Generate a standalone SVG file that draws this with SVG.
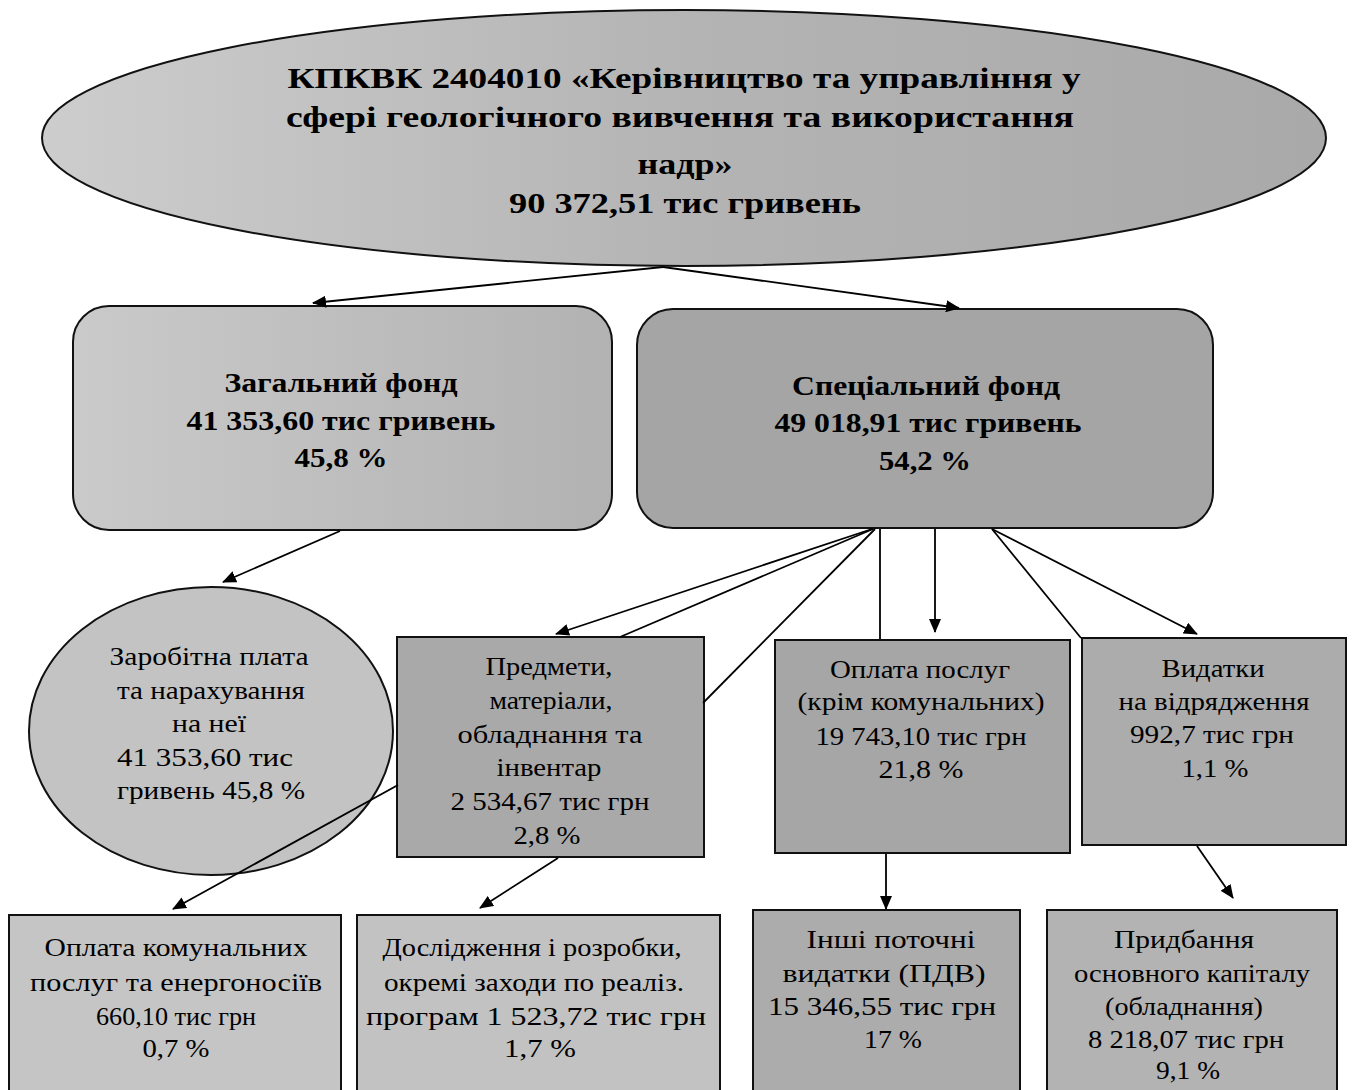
<svg xmlns="http://www.w3.org/2000/svg" width="1354" height="1090" viewBox="0 0 1354 1090">
<defs>
<linearGradient id="gEll" x1="0" y1="0" x2="1" y2="0">
<stop offset="0" stop-color="#cdcdcd"/><stop offset="0.5" stop-color="#b4b4b4"/><stop offset="1" stop-color="#a9a9a9"/>
</linearGradient>
<linearGradient id="gZag" x1="0" y1="0" x2="1" y2="0">
<stop offset="0" stop-color="#cacaca"/><stop offset="1" stop-color="#b2b2b2"/>
</linearGradient>
<marker id="ah" viewBox="0 0 14 12" refX="13" refY="6" markerWidth="14" markerHeight="12" markerUnits="userSpaceOnUse" orient="auto">
<path d="M0,0 L14,6 L0,12 z" fill="#000"/>
</marker>
</defs>
<style>
.bold{font-family:"Liberation Serif","Times New Roman",serif;font-weight:bold;fill:#000;text-anchor:middle}
.reg{font-family:"Liberation Serif","Times New Roman",serif;fill:#000;text-anchor:middle}
.t1{font-size:30px}
.t2{font-size:28px}
.t3{font-size:26px}
.box{stroke:#111;stroke-width:2}
.conn{stroke:#000;stroke-width:1.8;fill:none}
.arr{marker-end:url(#ah)}
</style>
<rect width="1354" height="1090" fill="#fff"/>

<g id="node-root">
<ellipse class="box" cx="684" cy="138" rx="642" ry="128" fill="url(#gEll)"/>
<text class="bold t1" x="684" y="88" textLength="793" lengthAdjust="spacingAndGlyphs">КПКВК 2404010 «Керівництво та управління у</text>
<text class="bold t1" x="680" y="127" textLength="788" lengthAdjust="spacingAndGlyphs">сфері геологічного вивчення та використання</text>
<text class="bold t1" x="685" y="174" textLength="95" lengthAdjust="spacingAndGlyphs">надр»</text>
<text class="bold t1" x="685" y="213" textLength="352" lengthAdjust="spacingAndGlyphs">90 372,51 тис гривень</text>
</g>

<g id="node-zagalnyi">
<rect class="box" x="73" y="306" width="539" height="224" rx="36" fill="url(#gZag)"/>
<text class="bold t2" x="341" y="392" textLength="233" lengthAdjust="spacingAndGlyphs">Загальний фонд</text>
<text class="bold t2" x="341" y="430" textLength="309" lengthAdjust="spacingAndGlyphs">41 353,60 тис гривень</text>
<text class="bold t2" x="341" y="467" textLength="93" lengthAdjust="spacingAndGlyphs">45,8 %</text>
</g>

<g id="node-spetsialnyi">
<rect class="box" x="637" y="309" width="576" height="219" rx="36" fill="#a5a5a5"/>
<text class="bold t2" x="926" y="395" textLength="268" lengthAdjust="spacingAndGlyphs">Спеціальний фонд</text>
<text class="bold t2" x="928" y="432" textLength="307" lengthAdjust="spacingAndGlyphs">49 018,91 тис гривень</text>
<text class="bold t2" x="925" y="470" textLength="92" lengthAdjust="spacingAndGlyphs">54,2 %</text>
</g>

<g id="node-zarplata">
<ellipse class="box" cx="211" cy="731" rx="182" ry="144" fill="#c3c3c3" stroke-width="1.5"/>
<text class="reg t3" x="209" y="665" textLength="199" lengthAdjust="spacingAndGlyphs">Заробітна плата</text>
<text class="reg t3" x="211" y="699" textLength="188" lengthAdjust="spacingAndGlyphs">та нарахування</text>
<text class="reg t3" x="209" y="732" textLength="74" lengthAdjust="spacingAndGlyphs">на неї</text>
<text class="reg t3" x="205" y="766" textLength="176" lengthAdjust="spacingAndGlyphs">41 353,60 тис</text>
<text class="reg t3" x="211" y="799" textLength="188" lengthAdjust="spacingAndGlyphs">гривень 45,8 %</text>
</g>

<g id="node-predmety">
<rect class="box" x="397" y="637" width="307" height="220" fill="#a9a9a9"/>
<text class="reg t3" x="549" y="675" textLength="127" lengthAdjust="spacingAndGlyphs">Предмети,</text>
<text class="reg t3" x="551" y="709" textLength="123" lengthAdjust="spacingAndGlyphs">матеріали,</text>
<text class="reg t3" x="550" y="743" textLength="185" lengthAdjust="spacingAndGlyphs">обладнання та</text>
<text class="reg t3" x="549" y="776" textLength="105" lengthAdjust="spacingAndGlyphs">інвентар</text>
<text class="reg t3" x="550" y="810" textLength="199" lengthAdjust="spacingAndGlyphs">2 534,67 тис грн</text>
<text class="reg t3" x="547" y="844" textLength="67" lengthAdjust="spacingAndGlyphs">2,8 %</text>
</g>

<g id="node-oplata-posluh">
<rect class="box" x="775" y="640" width="295" height="213" fill="#a6a6a6"/>
<text class="reg t3" x="920" y="678" textLength="180" lengthAdjust="spacingAndGlyphs">Оплата послуг</text>
<text class="reg t3" x="921" y="710" textLength="247" lengthAdjust="spacingAndGlyphs">(крім комунальних)</text>
<text class="reg t3" x="921" y="745" textLength="211" lengthAdjust="spacingAndGlyphs">19 743,10 тис грн</text>
<text class="reg t3" x="921" y="778" textLength="85" lengthAdjust="spacingAndGlyphs">21,8 %</text>
</g>

<g id="node-vidriadzhennia">
<rect class="box" x="1082" y="638" width="264" height="207" fill="#acacac"/>
<text class="reg t3" x="1213" y="677" textLength="103" lengthAdjust="spacingAndGlyphs">Видатки</text>
<text class="reg t3" x="1214" y="710" textLength="191" lengthAdjust="spacingAndGlyphs">на відрядження</text>
<text class="reg t3" x="1212" y="743" textLength="164" lengthAdjust="spacingAndGlyphs">992,7 тис грн</text>
<text class="reg t3" x="1215" y="777" textLength="67" lengthAdjust="spacingAndGlyphs">1,1 %</text>
</g>

<g id="node-komunalni">
<rect class="box" x="9" y="915" width="332" height="190" fill="#c5c5c5"/>
<text class="reg t3" x="176" y="956" textLength="263" lengthAdjust="spacingAndGlyphs">Оплата комунальних</text>
<text class="reg t3" x="176" y="991" textLength="292" lengthAdjust="spacingAndGlyphs">послуг та енергоносіїв</text>
<text class="reg t3" x="176" y="1025" textLength="160" lengthAdjust="spacingAndGlyphs">660,10 тис грн</text>
<text class="reg t3" x="176" y="1057" textLength="67" lengthAdjust="spacingAndGlyphs">0,7 %</text>
</g>

<g id="node-doslidzhennia">
<rect class="box" x="357" y="915" width="363" height="190" fill="#c2c2c2"/>
<text class="reg t3" x="532" y="956" textLength="299" lengthAdjust="spacingAndGlyphs">Дослідження і розробки,</text>
<text class="reg t3" x="534" y="991" textLength="300" lengthAdjust="spacingAndGlyphs">окремі заходи по реаліз.</text>
<text class="reg t3" x="536" y="1025" textLength="340" lengthAdjust="spacingAndGlyphs">програм 1 523,72 тис грн</text>
<text class="reg t3" x="540" y="1057" textLength="72" lengthAdjust="spacingAndGlyphs">1,7 %</text>
</g>

<g id="node-inshi">
<rect class="box" x="753" y="910" width="267" height="195" fill="#acacac"/>
<text class="reg t3" x="891" y="948" textLength="169" lengthAdjust="spacingAndGlyphs">Інші поточні</text>
<text class="reg t3" x="884" y="982" textLength="203" lengthAdjust="spacingAndGlyphs">видатки (ПДВ)</text>
<text class="reg t3" x="882" y="1015" textLength="228" lengthAdjust="spacingAndGlyphs">15 346,55 тис грн</text>
<text class="reg t3" x="893" y="1048" textLength="58" lengthAdjust="spacingAndGlyphs">17 %</text>
</g>

<g id="node-prydbannia">
<rect class="box" x="1047" y="910" width="290" height="195" fill="#b3b3b3"/>
<text class="reg t3" x="1184" y="948" textLength="140" lengthAdjust="spacingAndGlyphs">Придбання</text>
<text class="reg t3" x="1192" y="982" textLength="236" lengthAdjust="spacingAndGlyphs">основного капіталу</text>
<text class="reg t3" x="1184" y="1015" textLength="158" lengthAdjust="spacingAndGlyphs">(обладнання)</text>
<text class="reg t3" x="1186" y="1048" textLength="196" lengthAdjust="spacingAndGlyphs">8 218,07 тис грн</text>
<text class="reg t3" x="1188" y="1079" textLength="64" lengthAdjust="spacingAndGlyphs">9,1 %</text>
</g>

<g id="connectors">
<line class="conn arr" x1="663" y1="267" x2="313" y2="303"/>
<line class="conn arr" x1="663" y1="267" x2="959" y2="308"/>
<line class="conn arr" x1="340" y1="531" x2="223" y2="582"/>
<line class="conn arr" x1="872" y1="529" x2="556" y2="634"/>
<line class="conn" x1="873" y1="529" x2="620" y2="637"/>
<line class="conn" x1="875" y1="529" x2="703" y2="703"/>
<line class="conn" x1="880" y1="529" x2="880" y2="639"/>
<line class="conn arr" x1="935" y1="529" x2="935" y2="632"/>
<line class="conn" x1="992" y1="529" x2="1081" y2="638"/>
<line class="conn arr" x1="992" y1="529" x2="1197" y2="634"/>
<line class="conn arr" x1="398" y1="785" x2="173" y2="909"/>
<line class="conn arr" x1="558" y1="858" x2="480" y2="908"/>
<line class="conn arr" x1="886" y1="854" x2="886" y2="909"/>
<line class="conn arr" x1="1197" y1="846" x2="1233" y2="898"/>
</g>
</svg>
